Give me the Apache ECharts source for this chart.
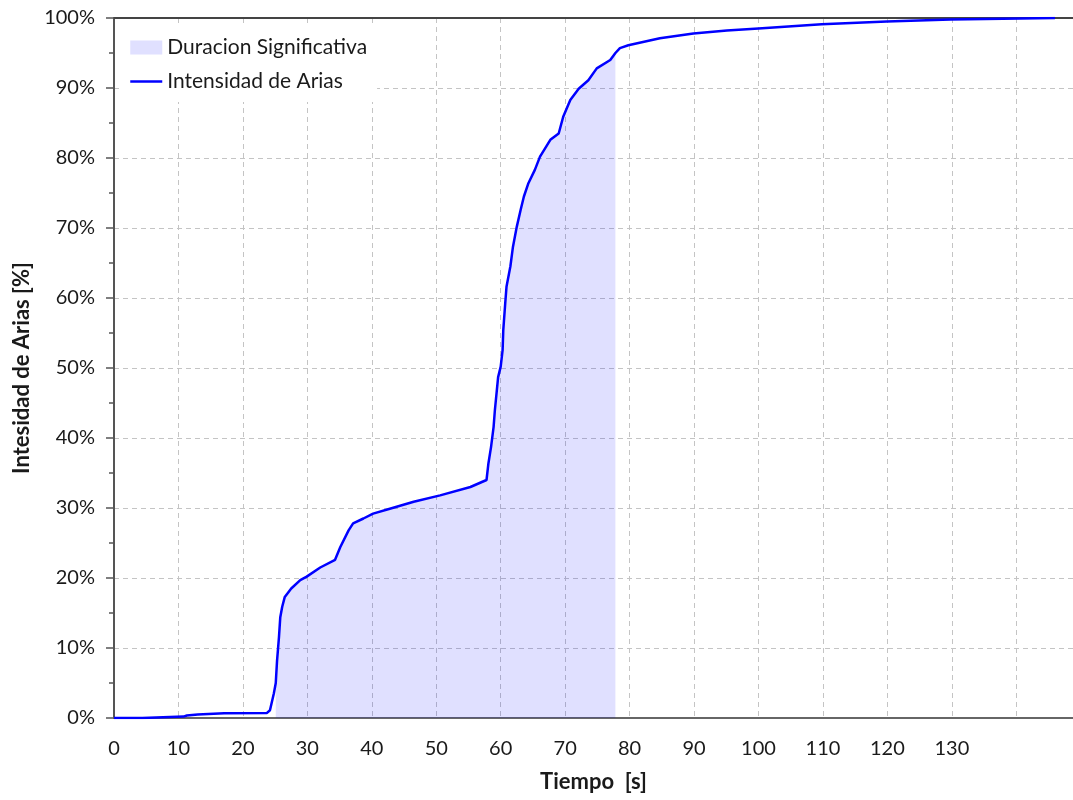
<!DOCTYPE html>
<html>
<head>
<meta charset="utf-8">
<script src="https://cdn.jsdelivr.net/npm/echarts@6/dist/echarts.min.js"></script>
<style>
html,body{margin:0;padding:0;background:#fff;}
#chart{width:1073px;height:800px;}
</style>
</head>
<body>
<div id="chart"></div>
<script>
// Time (s) and cumulative Arias intensity (%)
const time = [0, 4.4, 4.5, 10.8, 11.3, 13.0, 17.1, 23.7, 24.2, 24.8, 25.1, 25.3, 25.6, 25.8, 26.1, 26.5, 27.5, 28.9, 29.9, 32.0, 34.3, 35.1, 36.4, 37.1, 38.7, 40.2, 42.8, 46.5, 50.6, 55.3, 57.8, 58.1, 58.5, 58.9, 59.1, 59.4, 59.6, 60.0, 60.3, 60.4, 60.7, 60.9, 61.5, 61.9, 62.5, 63.1, 63.6, 64.3, 65.3, 66.1, 67.7, 69.0, 69.7, 70.8, 72.1, 73.6, 74.9, 77.0, 77.8, 78.5, 79.8, 84.7, 89.9, 95.1, 100, 109.8, 119.9, 129.8, 146.0];
const arias = [0, 0, 0.1, 0.2, 0.35, 0.5, 0.67, 0.7, 1.1, 3.5, 5.0, 8.2, 11.6, 14.4, 15.9, 17.3, 18.5, 19.7, 20.2, 21.5, 22.6, 24.4, 26.8, 27.8, 28.5, 29.2, 29.9, 30.9, 31.8, 33.0, 34.0, 36.4, 38.7, 41.6, 44.0, 46.8, 48.7, 50.2, 52.6, 55.4, 59.2, 61.6, 64.5, 67.3, 70.2, 72.6, 74.5, 76.4, 78.3, 80.2, 82.6, 83.5, 85.9, 88.3, 89.9, 91.1, 92.8, 94.0, 95.0, 95.7, 96.1, 97.1, 97.8, 98.2, 98.5, 99.1, 99.5, 99.8, 100];
// Significant duration limits (s)
const sigStart = 25.1;
const sigEnd = 77.8;
const xTickLabels = ['0','10','20','30','40','50','60','70','80','90','100','110','120','130'];
const yTickLabels = ['0%','10%','20%','30%','40%','50%','60%','70%','80%','90%','100%'];

const lineData = time.map((t, i) => [t, arias[i]]);
const sigData = lineData.filter(p => p[0] >= sigStart && p[0] <= sigEnd);

const FONT = 'Lato';
const chart = echarts.init(document.getElementById('chart'), null, {renderer: 'canvas'});
const dashed = {show: true, lineStyle: {color: '#c4c4c4', width: 1, type: [5, 4]}};

chart.setOption({
  animation: false,
  backgroundColor: '#fff',
  textStyle: {fontFamily: FONT},
  grid: {left: 114, right: 0, top: 18, bottom: 82, containLabel: false},
  legend: {
    orient: 'vertical', left: 119, top: 27, padding: [10, 10, 10, 10],
    backgroundColor: '#ffffff', itemWidth: 32, itemHeight: 14, itemGap: 13,
    textStyle: {fontFamily: FONT, fontSize: 21, color: '#1a1a1a'},
    data: [
      {name: 'Duracion Significativa', icon: 'rect', itemStyle: {color: '#E0E0FF'}},
      {name: 'Intensidad de Arias', itemStyle: {color: 'transparent', borderWidth: 0}, lineStyle: {color: '#0000FF', width: 2.5}}
    ]
  },
  xAxis: [{
    type: 'value', min: 0, max: 148.8, interval: 10,
    name: 'Tiempo  [s]', nameLocation: 'middle', nameGap: 53,
    nameTextStyle: {fontFamily: FONT, fontSize: 22, fontWeight: 'bold', color: '#1a1a1a'},
    axisLine: {show: true, lineStyle: {color: '#666', width: 2}},
    axisTick: {show: false},
    axisLabel: {
      fontFamily: FONT, fontSize: 20, color: '#1a1a1a', margin: 21, showMaxLabel: false,
      formatter: v => { const i = Math.round(v / 10); return (Math.abs(v - i * 10) < 1e-6 && xTickLabels[i]) ? xTickLabels[i] : ''; }
    },
    splitLine: dashed
  }, {
    type: 'value', position: 'top', min: 0, max: 148.8,
    axisLine: {show: true, lineStyle: {color: '#444', width: 2}},
    axisTick: {show: false}, axisLabel: {show: false}, splitLine: {show: false}
  }],
  yAxis: {
    type: 'value', min: 0, max: 100, interval: 10,
    name: 'Intesidad de Arias [%]', nameLocation: 'middle', nameGap: 81, nameRotate: 90,
    nameTextStyle: {fontFamily: FONT, fontSize: 22, fontWeight: 'bold', color: '#1a1a1a'},
    axisLine: {show: true, lineStyle: {color: '#555', width: 2}},
    axisTick: {show: true, inside: false, length: 8, lineStyle: {color: '#555', width: 1.5}},
    minorTick: {show: true, splitNumber: 2, length: 5, lineStyle: {color: '#555', width: 1.5}},
    axisLabel: {
      fontFamily: FONT, fontSize: 20, color: '#1a1a1a', margin: 19,
      formatter: v => yTickLabels[Math.round(v / 10)] || ''
    },
    splitLine: dashed
  },
  series: [{
    name: 'Duracion Significativa', type: 'line', data: sigData,
    symbol: 'none', lineStyle: {width: 0, color: '#E0E0FF'},
    itemStyle: {color: '#E0E0FF'},
    areaStyle: {color: 'rgba(0,0,255,0.12)', opacity: 1},
    z: 1, silent: true
  }, {
    name: 'Intensidad de Arias', type: 'line', data: lineData,
    symbol: 'none', lineStyle: {width: 2.5, color: '#0000FF'},
    itemStyle: {color: '#0000FF'}, z: 3
  }]
});
</script>
</body>
</html>
